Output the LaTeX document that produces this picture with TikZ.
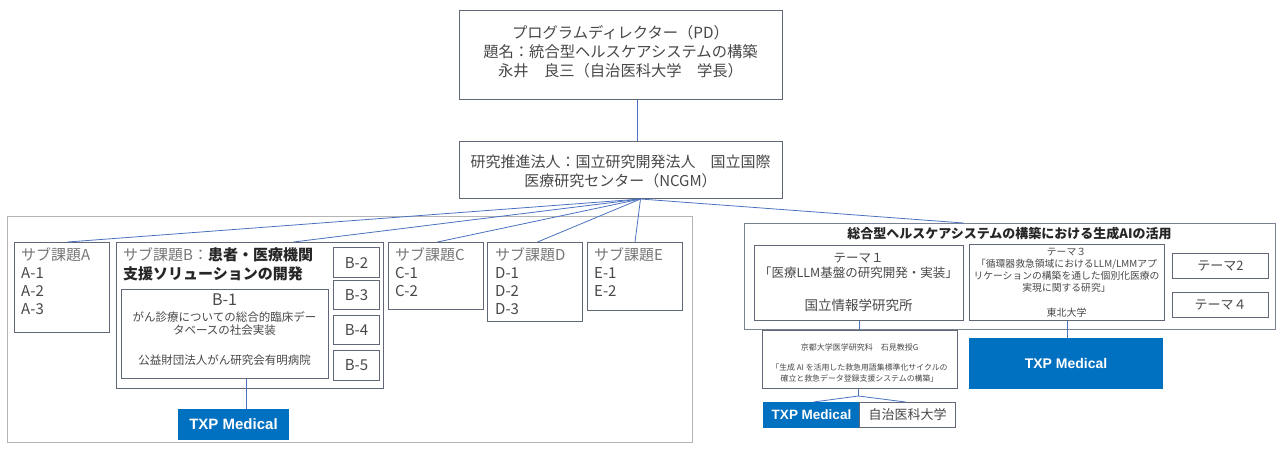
\documentclass[tikz,border=0pt]{standalone}
\usepackage{fontspec}
\setmainfont{Noto Sans CJK JP}
\newfontfamily\txpfont{Liberation Sans}
\definecolor{boxc}{RGB}{96,104,120}
\definecolor{outerl}{RGB}{180,180,180}
\definecolor{outerr}{RGB}{120,130,146}
\definecolor{conn}{RGB}{74,114,192}
\definecolor{txpc}{RGB}{0,112,192}
\definecolor{txt}{RGB}{72,72,72}
\definecolor{subt}{RGB}{118,118,118}
\newcommand{\fs}[2]{\fontsize{#1}{#2}\selectfont}
\begin{document}
\begin{tikzpicture}[x=1pt,y=-1pt,
  bx/.style={draw=boxc, line width=1pt, fill=white, inner sep=0pt, anchor=north west},
  outl/.style={draw=outerl, line width=1pt, fill=white, inner sep=0pt, anchor=north west},
  outr/.style={draw=outerr, line width=1pt, fill=white, inner sep=0pt, anchor=north west},
  txpbox/.style={fill=txpc, draw=txpc, line width=1pt, inner sep=0pt, anchor=north west, text=white},
  lbl/.style={inner sep=0pt, text=txt},
  cn/.style={draw=conn, line width=0.8pt}]
\useasboundingbox (0,0) rectangle (1280,456);
% outer group boxes
\node[outl, minimum width=685, minimum height=226] (leftg) at (7,216) {};
\node[outr, minimum width=531, minimum height=106] (rightg) at (744,223) {};
% top boxes
\node[bx, minimum width=323, minimum height=89] (pd) at (459,10) {};
\node[bx, minimum width=323, minimum height=57] (ncgm) at (459,141) {};
\coordinate (hub) at ([xshift=19.5pt]ncgm.south);
% connectors from top
\draw[cn] ([xshift=16.5pt]pd.south) -- ([xshift=16.5pt]ncgm.north);
% sub-topic boxes
\node[bx, minimum width=95, minimum height=90] (suba) at (14,242) {};
\node[bx, minimum width=267, minimum height=146] (subb) at (116,242) {};
\node[bx, minimum width=95, minimum height=67] (subc) at (388,242) {};
\node[bx, minimum width=95, minimum height=79] (subd) at (487,242) {};
\node[bx, minimum width=95, minimum height=68] (sube) at (587,242) {};
\draw[cn] (hub) -- ([xshift=5.5pt]suba.north);
\draw[cn] (hub) -- ([xshift=43.5pt]subb.north);
\draw[cn] (hub) -- ([xshift=1.5pt]subc.north);
\draw[cn] (hub) -- ([xshift=2.5pt]subd.north);
\draw[cn] (hub) -- (sube.north);
\draw[cn] (hub) -- ([xshift=-46.5pt]rightg.north);
% B inner boxes
\node[bx, minimum width=207, minimum height=89] (b1) at (121,289) {};
\node[bx, minimum width=46, minimum height=30] (b2) at (333,247) {};
\node[bx, minimum width=46, minimum height=29] (b3) at (333,280) {};
\node[bx, minimum width=46, minimum height=29] (b4) at (333,315) {};
\node[bx, minimum width=46, minimum height=30] (b5) at (333,350) {};
\node[txpbox, minimum width=110, minimum height=30, font=\txpfont\bfseries\fs{15}{18}] (txpl) at (178,409) {TXP Medical};
\draw[cn] ([xshift=13pt]txpl.north) -- ([xshift=13pt]txpl.north |- b1.south);
% texts left group
\node[lbl, anchor=north west, align=left, font=\fs{15}{18}] (ta) at (21,247.5)
  {\textcolor{subt}{サブ課題A}\\A-1\\A-2\\A-3};
\node[lbl, anchor=north west, align=left, font=\fs{15}{19}] (tb) at (123,247.5)
  {\textcolor{subt}{サブ課題B：}\textbf{\textcolor{black!85}{患者・医療機関}}\\\textbf{\textcolor{black!85}{支援ソリューションの開発}}};
\node[lbl, font=\fs{16}{18}] (tb1) at (224.5,300) {B-1};
\node[lbl, anchor=north, align=center, font=\fs{11.5}{13}] (tb1b) at (224.5,311) {がん診療についての総合的臨床デー\\タベースの社会実装};
\node[lbl, font=\fs{11.5}{13}] (tb1c) at (224.5,360) {公益財団法人がん研究会有明病院};
\node[lbl, font=\fs{15}{18}] at (b2.center) {B-2};
\node[lbl, font=\fs{15}{18}] at (b3.center) {B-3};
\node[lbl, font=\fs{15}{18}] at (b4.center) {B-4};
\node[lbl, font=\fs{15}{18}] at (b5.center) {B-5};
\node[lbl, anchor=north west, align=left, font=\fs{15}{18}] (tc) at (395,247.5)
  {\textcolor{subt}{サブ課題C}\\C-1\\C-2};
\node[lbl, anchor=north west, align=left, font=\fs{15}{18}] (td) at (495,247.5)
  {\textcolor{subt}{サブ課題D}\\D-1\\D-2\\D-3};
\node[lbl, anchor=north west, align=left, font=\fs{15}{18}] (te) at (594,247.5)
  {\textcolor{subt}{サブ課題E}\\E-1\\E-2};
% top texts
\node[lbl, anchor=north, align=center, font=\fs{15.3}{19}] (tpd) at (620.5,25.5)
  {プログラムディレクター（PD）\\題名：統合型ヘルスケアシステムの構築\\永井　良三（自治医科大学　学長）};
\node[lbl, anchor=north, align=center, font=\fs{15}{19}] (tncgm) at (620.5,154.5)
  {研究推進法人：国立研究開発法人　国立国際\\医療研究センター（NCGM）};
% right group
\node[lbl, text=black!85, font=\bfseries\fs{13}{15}] (trg) at (1009.5,234) {総合型ヘルスケアシステムの構築における生成AIの活用};
\node[bx, minimum width=209, minimum height=75] (th1) at (754,245) {};
\node[bx, minimum width=195, minimum height=76] (th3) at (969,244) {};
\node[bx, minimum width=96, minimum height=25, font=\fs{13}{15}, text=txt] (th2) at (1172,253) {テーマ2};
\node[bx, minimum width=96, minimum height=25, font=\fs{13}{15}, text=txt] (th4) at (1172,292) {テーマ４};
\node[lbl, anchor=north, align=center, font=\fs{12.5}{15}] (tth1) at (858.5,253.5)
  {テーマ１\\「医療LLM基盤の研究開発・実装」};
\node[lbl, font=\fs{13.5}{15}] (tth1b) at (858.5,305) {国立情報学研究所};
\node[lbl, anchor=north, align=center, font=\fs{9.8}{12}] (tth3) at (1066.5,248)
  {テーマ３\\「循環器救急領域におけるLLM/LMMアプ\\リケーションの構築を通した個別化医療の\\実現に関する研究」};
\node[lbl, font=\fs{10}{12}] (tth3b) at (1066.5,313) {東北大学};
\node[bx, minimum width=195, minimum height=58] (kyoto) at (762,330) {};
\node[txpbox, minimum width=193, minimum height=50, font=\txpfont\bfseries\fs{14}{17}] (txpr) at (969,338) {TXP Medical};
\node[txpbox, minimum width=96, minimum height=25, font=\txpfont\bfseries\fs{13.5}{16}] (txpb) at (763,402) {TXP Medical};
\node[bx, minimum width=96, minimum height=25, font=\fs{13}{15}, text=txt] (jichi) at (859,402) {自治医科大学};
\node[lbl, font=\fs{8}{10}] (tky1) at (859.5,347) {京都大学医学研究科　石見教授G};
\node[lbl, align=center, font=\fs{7.9}{10.5}] (tky2) at (859.5,373) {「生成 AI を活用した救急用語集標準化サイクルの\\確立と救急データ登録支援システムの構築」};
\draw[cn] (th1.south) -- (th1.south |- kyoto.north);
\draw[cn] (th3.south) -- (th3.south |- txpr.north);
\coordinate (kj) at ([yshift=-7pt]kyoto.south);
\draw[cn] ([xshift=-1.5pt]kyoto.south) -- ([xshift=-1.5pt]kj);
\draw[cn] ([xshift=-1.5pt]kj) -- ([xshift=2pt]txpb.north);
\draw[cn] ([xshift=-1.5pt]kj) -- ([xshift=-2pt]jichi.north);
\end{tikzpicture}
\end{document}
